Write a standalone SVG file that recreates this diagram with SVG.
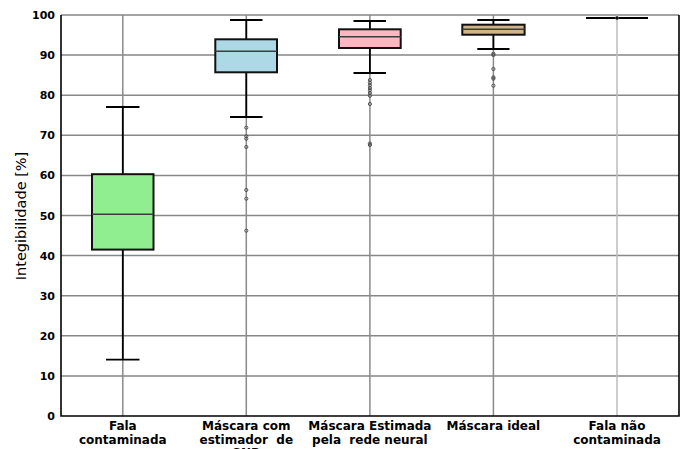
<svg xmlns="http://www.w3.org/2000/svg" width="685" height="449" viewBox="0 0 685 449">
<style>
.grid{stroke:#878787;stroke-width:1.5;fill:none}
.vgrid{stroke:#8a8a8a;stroke-width:1.5}
.spine{stroke:#000;stroke-width:1.6;fill:none}
.box{stroke:#111;stroke-width:2}
.wh{stroke:#000;stroke-width:1.8;fill:none}
.med{stroke:#3c3c3c;stroke-width:1.6}
.fl{fill:none;stroke:#444;stroke-width:0.9}
.tick{font-family:"DejaVu Sans",sans-serif;font-weight:bold;font-size:11px;text-anchor:end;fill:#000}
.xl{font-family:"DejaVu Sans",sans-serif;font-weight:bold;font-size:12px;text-anchor:middle;fill:#000;white-space:pre}
.yl{font-family:"DejaVu Sans",sans-serif;font-size:14.5px;text-anchor:middle;fill:#000}
</style>
<rect width="685" height="449" fill="#fff"/>
<g id="grid">
<path class="grid" d="M61 15H679M61 55.1H679M61 95.2H679M61 135.3H679M61 175.4H679M61 215.5H679M61 255.6H679M61 295.7H679M61 335.8H679M61 375.9H679"/>
<path class="vgrid" d="M122.8 15V416M246.3 15V416M369.9 15V416M493.4 15V416"/>
<path stroke="#bdbdbd" stroke-width="1.5" d="M617 15V416"/>
</g>
<g id="axes">
<path class="spine" d="M61 15V416H679V15"/>
<g class="tick">
<text x="55" y="19">100</text>
<text x="55" y="59.1">90</text>
<text x="55" y="99.2">80</text>
<text x="55" y="139.3">70</text>
<text x="55" y="179.4">60</text>
<text x="55" y="219.5">50</text>
<text x="55" y="259.6">40</text>
<text x="55" y="299.7">30</text>
<text x="55" y="339.8">20</text>
<text x="55" y="379.9">10</text>
<text x="55" y="420">0</text>
</g>
<text class="yl" transform="translate(26 216) rotate(-90)">Integibilidade [%]</text>
</g>
<g id="box-fala-contaminada">
<path class="wh" d="M122.8 174.2V107M106 107H139.5M122.8 249.6V359.7M106 359.7H139.5"/>
<rect class="box" x="92" y="174.2" width="61.5" height="75.4" fill="#90ee90"/>
<path class="med" d="M92 214.3H153.5"/>
<text class="xl" x="122.8" y="430">Fala</text>
<text class="xl" x="122.8" y="443.5">contaminada</text>
</g>
<g id="box-mascara-snr">
<path class="wh" d="M246.3 39.3V20M230 20H262.5M246.3 72.3V117M230 117H262.5"/>
<rect class="box" x="215.3" y="39.3" width="61.7" height="33" fill="#add8e6"/>
<path class="med" d="M215.3 51.3H277"/>
<g class="fl">
<circle cx="246.3" cy="127.7" r="1.6"/><circle cx="246.3" cy="136.3" r="1.6"/><circle cx="246.3" cy="138.7" r="1.6"/><circle cx="246.3" cy="147" r="1.6"/><circle cx="246.3" cy="190" r="1.6"/><circle cx="246.3" cy="198.7" r="1.6"/><circle cx="246.3" cy="230.7" r="1.6"/>
</g>
<text class="xl" x="246.3" y="430">Máscara com</text>
<text class="xl" x="246.3" y="443.5">estimador  de</text>
<text class="xl" x="246.3" y="457">SNR</text>
</g>
<g id="box-mascara-rede-neural">
<path class="wh" d="M369.9 29.3V21M353.5 21H386M369.9 48V73M353.5 73H386"/>
<rect class="box" x="339" y="29.3" width="61.7" height="18.7" fill="#ffb6c1"/>
<path class="med" d="M339 36.7H400.7" stroke="#6a6a6a"/>
<g class="fl">
<circle cx="369.9" cy="80" r="1.6"/><circle cx="369.9" cy="82.7" r="1.6"/><circle cx="369.9" cy="85.3" r="1.6"/><circle cx="369.9" cy="88" r="1.6"/><circle cx="369.9" cy="90.3" r="1.6"/><circle cx="369.9" cy="93" r="1.6"/><circle cx="369.9" cy="95.7" r="1.6"/><circle cx="369.9" cy="104" r="1.6"/><circle cx="369.9" cy="143.5" r="1.6"/><circle cx="369.9" cy="145" r="1.6"/>
</g>
<text class="xl" x="369.9" y="430">Máscara Estimada</text>
<text class="xl" x="369.9" y="443.5">pela  rede neural</text>
</g>
<g id="box-mascara-ideal">
<path class="wh" d="M493.4 24.7V20M477.3 20H509.5M493.4 34.7V49M477.3 49H509.5"/>
<rect class="box" x="462.3" y="24.7" width="62.3" height="10" fill="#d2b48c"/>
<path class="med" d="M462.3 29.3H524.6"/>
<g class="fl">
<circle cx="493.4" cy="53.7" r="1.6"/><circle cx="493.4" cy="55" r="1.6"/><circle cx="493.4" cy="69" r="1.6"/><circle cx="493.4" cy="77.3" r="1.6"/><circle cx="493.4" cy="78.7" r="1.6"/><circle cx="493.4" cy="85.7" r="1.6"/>
</g>
<text class="xl" x="493.4" y="430">Máscara ideal</text>
</g>
<g id="box-fala-nao-contaminada">
<path class="wh" d="M586 18H648"/>
<circle class="fl" cx="617" cy="18" r="1.6"/>
<text class="xl" x="617" y="430">Fala não</text>
<text class="xl" x="617" y="443.5">contaminada</text>
</g>
</svg>
